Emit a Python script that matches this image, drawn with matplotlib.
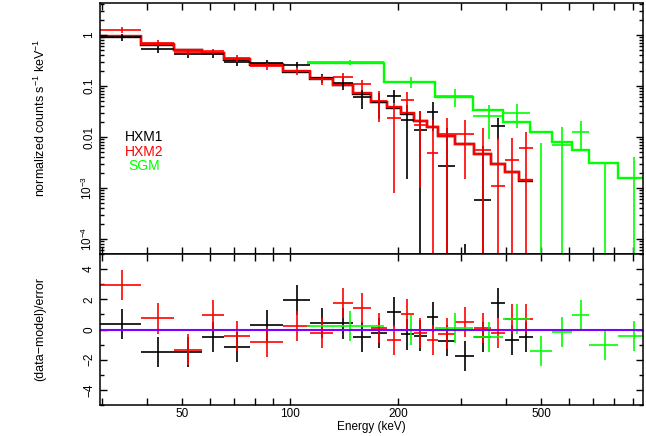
import matplotlib
matplotlib.use('Agg')
import matplotlib.pyplot as plt
from matplotlib.ticker import FixedLocator, FixedFormatter, NullFormatter, MultipleLocator
import numpy as np

plt.rcParams['font.family'] = ['Liberation Sans', 'DejaVu Sans']
plt.rcParams['mathtext.fontset'] = 'custom'
plt.rcParams['mathtext.rm'] = 'Liberation Sans'
plt.rcParams['mathtext.it'] = 'Liberation Sans:italic'

# channel bin edges in keV
hxm_edges = [29.5, 38.6, 47.5, 56.8, 65.5, 77.4, 95.4, 113.7, 131.5, 150.1, 167.8,
             185.9, 203.4, 221.5, 240.4, 258.9, 288.2, 325.5, 362.3, 397.1, 435.3, 474.3]
sgm_edges = [111.3, 182.7, 253.4, 324.0, 392.9, 466.2, 535.8, 609.0, 681.9, 821.3, 1000.0]

# HXM1 (black)
hxm1_flux = [0.90, 0.53, 0.42, 0.42, 0.30, 0.285, 0.258, 0.145, 0.113, 0.060, 0.048,
             0.0646, 0.0215, 0.0137, 0.031, 0.0027, -0.0092, 0.00058, 0.0164, -0.003, -0.002]
hxm1_err = [0.13, 0.09, 0.07, 0.07, 0.05, 0.04, 0.035, 0.03, 0.028, 0.025, 0.025,
            0.018, 0.02, 0.018, 0.018, 0.012, 0.00928, 0.006, 0.0075, 0.002, 0.0015]
hxm1_model = [0.93, 0.65, 0.50, 0.44, 0.33, 0.26, 0.19, 0.139, 0.103, 0.071, 0.048,
              0.037, 0.0285, 0.0207, 0.0157, 0.0103, 0.0072, 0.0046, 0.00295, 0.00207, 0.0014]
hxm1_resid = [0.38, -1.51, -1.51, -0.49, -1.16, 0.27, 1.96, 0.44, 0.40, -0.51, -0.22,
              1.18, -0.33, -0.40, 0.84, -0.73, -1.78, -0.50, 1.78, -0.67, -0.51]

# HXM2 (red)
hxm2_flux = [1.25, 0.70, 0.47, 0.48, 0.35, 0.245, 0.20, 0.135, 0.152, 0.108, 0.05,
             0.0233, 0.053, 0.017, 0.0048, 0.0117, 0.0117, 0.0056, 0.0011, 0.0035, 0.006]
hxm2_err = [0.17, 0.09, 0.07, 0.06, 0.05, 0.04, 0.035, 0.03, 0.03, 0.025, 0.03,
            0.0225, 0.024, 0.016, 0.017, 0.012, 0.0102, 0.0094, 0.0085, 0.006, 0.0065]
hxm2_model = [0.97, 0.67, 0.51, 0.45, 0.34, 0.266, 0.193, 0.141, 0.105, 0.072, 0.049,
              0.038, 0.029, 0.021, 0.016, 0.0105, 0.0073, 0.0047, 0.0030, 0.0021, 0.00143]
hxm2_resid = [2.93, 0.73, -1.33, 0.93, -0.44, -0.84, 0.22, -0.22, 1.73, 1.44, 0.11,
              -0.71, 1.0, -0.22, -0.67, -0.27, 0.49, 0.11, -0.22, 0.67, 0.67]

# SGM (green)
sgm_flux = [0.29, 0.12, 0.063, 0.0258, 0.030, -0.0045, 0.0070, 0.0128, -0.0014, -0.0005]
sgm_err = [0.035, 0.03, 0.025, 0.0165, 0.015, 0.012, 0.0089, 0.0074, 0.0045, 0.0046]
sgm_model = [0.278, 0.122, 0.062, 0.034, 0.0199, 0.0128, 0.0081, 0.0055, 0.0031, 0.00154]
sgm_resid = [0.22, -0.04, 0.11, -0.49, 0.71, -1.44, -0.18, 0.93, -1.0, -0.44]

resid_err = 1.0

W, H = 646, 436
fig = plt.figure(figsize=(W / 100, H / 100), dpi=100)
ax1 = fig.add_axes([100 / W, 1 - 254 / H, 543 / W, 251 / H])
ax2 = fig.add_axes([100 / W, 1 - 405 / H, 543 / W, 151 / H], sharex=ax1)


def draw_spec(ax, edges, flux, err, color):
    edges = np.array(edges)
    lo, hi = edges[:-1], edges[1:]
    xc = (lo + hi) / 2
    flux = np.array(flux)
    err = np.array(err)
    top = flux + err
    bot = np.maximum(flux - err, 1e-9)
    v = top > 0
    ax.vlines(xc[v], bot[v], top[v], colors=color, lw=1.2)
    h = flux > 0
    ax.hlines(flux[h], lo[h], hi[h], colors=color, lw=1.2)


def draw_resid(ax, edges, resid, color):
    edges = np.array(edges)
    lo, hi = edges[:-1], edges[1:]
    xc = (lo + hi) / 2
    r = np.array(resid)
    ax.vlines(xc, r - resid_err, r + resid_err, colors=color, lw=1.2)
    ax.hlines(r, lo, hi, colors=color, lw=1.2)


for edges, flux, err, model, resid, c in [
        (hxm_edges, hxm1_flux, hxm1_err, hxm1_model, hxm1_resid, 'black'),
        (hxm_edges, hxm2_flux, hxm2_err, hxm2_model, hxm2_resid, '#ff0000'),
        (sgm_edges, sgm_flux, sgm_err, sgm_model, sgm_resid, '#00ff00')]:
    draw_spec(ax1, edges, flux, err, c)
    ax1.stairs(model, edges, baseline=None, color=c, lw=1.7)
    draw_resid(ax2, edges, resid, c)

ax2.axhline(0, color='#7f00ff', lw=1.5)

ax1.set_xscale('log')
ax1.set_yscale('log')
ax1.set_xlim(29.6, 962)
ax1.set_ylim(5.08e-5, 4.24)
ax2.set_ylim(-5, 5)

xt = [30, 40, 50, 60, 70, 80, 90, 100, 200, 300, 400, 500, 600, 700, 800, 900]
xl = ['' if t not in (50, 100, 200, 500) else str(t) for t in xt]
ax2.xaxis.set_major_locator(FixedLocator(xt))
ax2.xaxis.set_major_formatter(FixedFormatter(xl))
ax2.xaxis.set_minor_locator(FixedLocator([]))
ax1.tick_params(axis='x', labelbottom=False)

ax1.yaxis.set_major_locator(FixedLocator([1e-4, 1e-3, 1e-2, 0.1, 1]))
ax1.yaxis.set_major_formatter(FixedFormatter(['$10^{-4}$', '$10^{-3}$', '0.01', '0.1', '1']))
ax1.yaxis.set_minor_locator(matplotlib.ticker.LogLocator(base=10, subs=np.arange(2, 10), numticks=20))
ax1.yaxis.set_minor_formatter(NullFormatter())

ax2.yaxis.set_major_locator(MultipleLocator(2))
ax2.yaxis.set_minor_locator(MultipleLocator(1))

for ax in (ax1, ax2):
    ax.tick_params(which='both', direction='in', top=True, right=True, labelsize=8.5, width=1.0)
    ax.tick_params(which='major', length=5)
    ax.tick_params(which='minor', length=3)
    ax.tick_params(axis='y', labelrotation=90)
    for t in ax.get_yticklabels():
        t.set_va('center')
    for s in ax.spines.values():
        s.set_linewidth(1.1)
ax1.tick_params(axis='x', length=5)
ax2.tick_params(axis='x', pad=2)

fig.text(40 / W, 1 - 118 / H, 'normalized counts s$^{-1}$ keV$^{-1}$', rotation=90,
         ha='center', va='center', fontsize=9)
fig.text(40 / W, 1 - 329 / H, '(data\u2212model)/error', rotation=90,
         ha='center', va='center', fontsize=9)
fig.text(371 / W, 1 - 427 / H, 'Energy (keV)', ha='center', va='center', fontsize=8.5)

fig.text(144 / W, 1 - 137 / H, 'HXM1', color='black', ha='center', va='center', fontsize=10)
fig.text(144 / W, 1 - 151.5 / H, 'HXM2', color='#ff0000', ha='center', va='center', fontsize=10)
fig.text(144 / W, 1 - 166 / H, 'SGM', color='#00ff00', ha='center', va='center', fontsize=10)

fig.savefig('out.png', dpi=100)
